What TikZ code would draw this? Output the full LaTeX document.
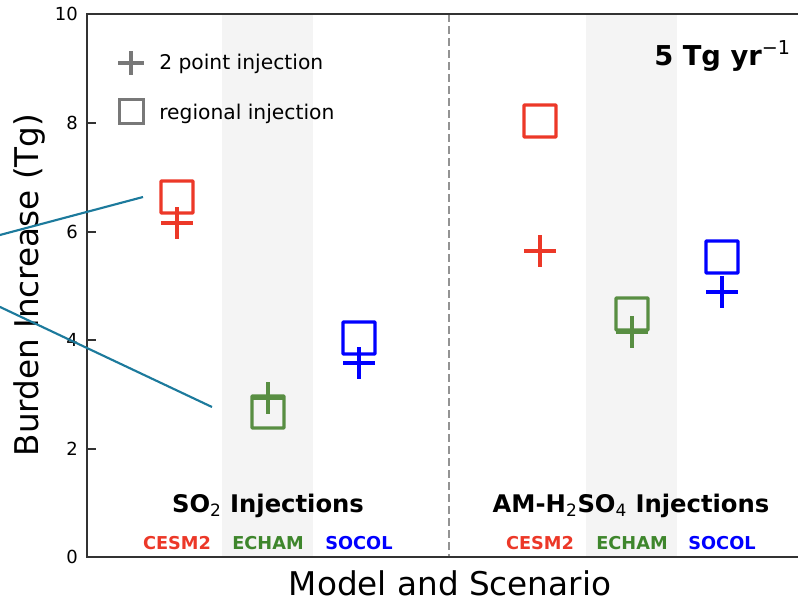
\documentclass[tikz,border=0pt]{standalone}
\usepackage{fontspec}
\setmainfont{DejaVu Sans}
\definecolor{mred}{RGB}{236,56,40}
\definecolor{mgreen}{RGB}{88,142,66}
\definecolor{lgreen}{RGB}{62,134,44}
\definecolor{mblue}{RGB}{0,0,255}
\definecolor{band}{RGB}{244,244,244}
\definecolor{axisc}{RGB}{50,50,50}
\definecolor{legc}{RGB}{120,120,120}
\definecolor{tealc}{RGB}{28,122,156}
\tikzset{
  sqm/.style={draw=#1, line width=2.6pt, minimum size=24pt, inner sep=0pt, rounded corners=0.6pt},
  plusm/.pic={\draw[line width=2.6pt, pic actions] (-16,0)--(16,0) (0,-16)--(0,16);},
  legplus/.pic={\draw[line width=2.4pt, pic actions] (-13,0)--(13,0) (0,-12)--(0,12);},
  ticklab/.style={anchor=east, inner sep=0pt, font=\fontsize{13.5}{15}\selectfont, text=black},
  modlab/.style={anchor=base, inner sep=0pt, font=\fontsize{13.3}{15}\selectfont\bfseries},
  grouplab/.style={anchor=base, inner sep=0pt, font=\fontsize{18.2}{20}\selectfont\bfseries},
  leglab/.style={anchor=base west, inner sep=0pt, font=\fontsize{15.2}{17}\selectfont},
  biglab/.style={anchor=base, inner sep=0pt, font=\fontsize{24.5}{27}\selectfont},
  axisline/.style={draw=axisc, line width=1.5pt},
  tealline/.style={draw=tealc, line width=1.6pt}
}
\begin{document}
\begin{tikzpicture}[x=0.75pt, y=-0.75pt]
\useasboundingbox (0,0) rectangle (798,601);
% bands
\fill[band] (222,14) rectangle (313,557);
\fill[band] (586,14) rectangle (677,557);
% dashed separator
\draw[draw=gray!85, line width=1.5pt, dash pattern=on 6pt off 3pt] (449,14) -- (449,557);
% axes
\draw[axisline] (798,14) -- (87,14) -- (87,557) -- (798,557);
\foreach \v/\yy in {0/557, 2/449, 4/340, 6/232, 8/123, 10/14} {
  \draw[axisline, line width=1.2pt] (87,\yy) -- (96,\yy);
  \node[ticklab] (t\v) at (78,\yy) {\v};
}
% legend
\pic[draw=legc] (legp) at (131,63) {legplus};
\node[draw=legc, line width=2.3pt, minimum size=18.5pt, inner sep=0pt] (legs) at (131.5,111.5) {};
\node[leglab] (legpt) at (159,69) {2 point injection};
\node[leglab] (legst) at (159,119) {regional injection};
% rate label
\node[anchor=base east, inner sep=0pt, font=\fontsize{20.5}{23}\selectfont\bfseries] (rate) at (791,65) {5 Tg yr\textsuperscript{\mdseries −1}};
% SO2 markers
\node[sqm=mred] (s1) at (177,197) {};
\pic[draw=mred] (p1) at (177,223) {plusm};
\node[sqm=mgreen] (s2) at (268,412) {};
\pic[draw=mgreen] (p2) at (268,398) {plusm};
\node[sqm=mblue] (s3) at (359,338) {};
\pic[draw=mblue] (p3) at (359,363) {plusm};
% AM-H2SO4 markers
\node[sqm=mred] (s4) at (540,121) {};
\pic[draw=mred] (p4) at (540,251) {plusm};
\node[sqm=mgreen] (s5) at (632,314) {};
\pic[draw=mgreen] (p5) at (632,332) {plusm};
\node[sqm=mblue] (s6) at (722,257) {};
\pic[draw=mblue] (p6) at (722,292) {plusm};
% group labels
\node[grouplab] (g1) at (268,512) {SO\textsubscript{\mdseries 2} Injections};
\node[grouplab] (g2) at (631,512) {AM-H\textsubscript{\mdseries 2}SO\textsubscript{\mdseries 4} Injections};
\node[modlab, text=mred] (m1) at (177,549) {CESM2};
\node[modlab, text=lgreen] (m2) at (268,549) {ECHAM};
\node[modlab, text=mblue] (m3) at (359,549) {SOCOL};
\node[modlab, text=mred] (m4) at (540,549) {CESM2};
\node[modlab, text=lgreen] (m5) at (632,549) {ECHAM};
\node[modlab, text=mblue] (m6) at (722,549) {SOCOL};
% axis labels
\node[biglab] (xl) at (450,595) {Model and Scenario};
\node[biglab, rotate=90] (yl) at (38,285) {Burden Increase (Tg)};
% teal lines
\coordinate (a1) at (-2,235.5);
\coordinate (a2) at (143,197);
\coordinate (b1) at (-2,306);
\coordinate (b2) at (212,407);
\draw[tealline] (a1) -- (a2);
\draw[tealline] (b1) -- (b2);
\end{tikzpicture}
\end{document}
